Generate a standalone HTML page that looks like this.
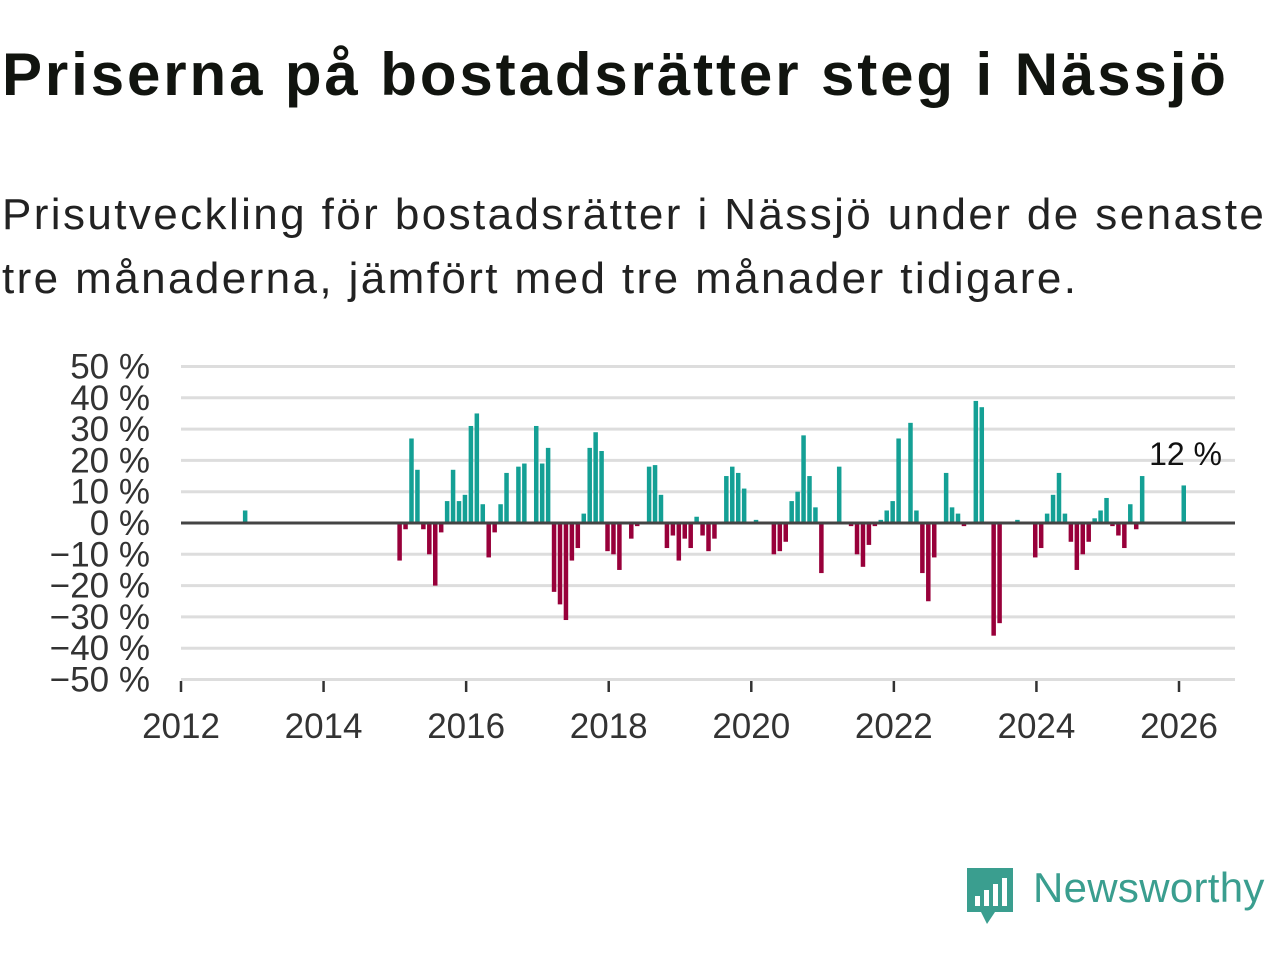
<!DOCTYPE html>
<html><head><meta charset="utf-8">
<style>
body{margin:0;width:1280px;height:960px;background:#fff;overflow:hidden;font-family:"Liberation Sans","DejaVu Sans",sans-serif;color:#111}
h1{position:absolute;left:2px;top:40px;margin:0;font-size:60px;font-weight:bold;letter-spacing:2.9px;color:#11140f;white-space:nowrap}
p{position:absolute;left:2px;top:183px;margin:0;font-size:44px;line-height:64px;color:#222;width:1300px;letter-spacing:2.4px;white-space:nowrap}
svg{position:absolute;left:0;top:0}
</style></head><body>
<h1>Priserna på bostadsrätter steg i Nässjö</h1>
<p>Prisutveckling för bostadsrätter i Nässjö under de senaste<br>tre månaderna, jämfört med tre månader tidigare.</p>
<svg id="chart" width="1280" height="960"></svg>
<div style="position:absolute;left:965px;top:864px;width:320px;height:64px">
<svg width="52" height="62" style="position:absolute;left:0;top:2px"><path d="M2 2h46v44h-18l-8 12-6-12H2z" fill="#3a9e8f"/><rect x="10" y="30" width="5" height="10" fill="#fff"/><rect x="19" y="24" width="5" height="16" fill="#fff"/><rect x="28" y="18" width="5" height="22" fill="#fff"/><rect x="37" y="12" width="5" height="28" fill="#fff"/></svg>
<span style="position:absolute;left:68px;top:0;font-size:42px;color:#3a9e8f;font-weight:normal;letter-spacing:0.3px">Newsworthy</span></div>
<script>
const months=["2012-11","2015-01","2015-02","2015-03","2015-04","2015-05","2015-06","2015-07","2015-08","2015-09","2015-10","2015-11","2015-12",
"2016-01","2016-02","2016-03","2016-04","2016-05","2016-06","2016-07","2016-09","2016-10","2016-12",
"2017-01","2017-02","2017-03","2017-04","2017-05","2017-06","2017-07","2017-08","2017-09","2017-10","2017-11","2017-12",
"2018-01","2018-02","2018-04","2018-05","2018-07","2018-08","2018-09","2018-10","2018-11","2018-12",
"2019-01","2019-02","2019-03","2019-04","2019-05","2019-06","2019-08","2019-09","2019-10","2019-11",
"2020-01","2020-04","2020-05","2020-06","2020-07","2020-08","2020-09","2020-10","2020-11","2020-12",
"2021-03","2021-05","2021-06","2021-07","2021-08","2021-09","2021-10","2021-11","2021-12",
"2022-01","2022-03","2022-04","2022-05","2022-06","2022-07","2022-09","2022-10","2022-11","2022-12",
"2023-02","2023-03","2023-05","2023-06","2023-09","2023-12",
"2024-01","2024-02","2024-03","2024-04","2024-05","2024-06","2024-07","2024-08","2024-09","2024-10","2024-11","2024-12",
"2025-01","2025-02","2025-03","2025-04","2025-05","2025-06","2026-01"];
const values=[4,-12,-2,27,17,-2,-10,-20,-3,7,17,7,9,
31,35,6,-11,-3,6,16,18,19,31,
19,24,-22,-26,-31,-12,-8,3,24,29,23,-9,
-10,-15,-5,-1,18,18.5,9,-8,-4,-12,
-5,-8,2,-4,-9,-5,15,18,16,11,
1,-10,-9,-6,7,10,28,15,5,-16,
18,-1,-10,-14,-7,-1,1,4,7,
27,32,4,-16,-25,-11,16,5,3,-1,
39,37,-36,-32,1,-11,
-8,3,9,16,3,-6,-15,-10,-6,1.5,4,8,
-1,-4,-8,6,-2,15,12];
const yTicks=[50,40,30,20,10,0,-10,-20,-30,-40,-50];
const xYears=[2012,2014,2016,2018,2020,2022,2024,2026];
const lastLabel="12 %";
const NS="http://www.w3.org/2000/svg",svg=document.getElementById('chart');
const x0=181,pxYear=(1179-181)/14;
const xScale=d=>{const [y,m]=d.split('-').map(Number);return x0+(y-2012+(m-1)/12)*pxYear;};
const yScale=v=>523-v*3.13;
function mk(t,a){const e=document.createElementNS(NS,t);for(const k in a)e.setAttribute(k,a[k]);svg.appendChild(e);return e;}
yTicks.forEach(t=>{
 if(t!==0){const g=mk('line',{x1:181,x2:1235,y1:yScale(t),y2:yScale(t),stroke:'#ddd','stroke-width':3});
 
 }
 const l=mk('text',{x:150,y:yScale(t)+12,'text-anchor':'end','font-size':35,fill:'#333','font-family':'Liberation Sans, sans-serif'});
 l.textContent=(t<0?'−'+(-t):t)+' %';
 
 
});
months.forEach((d,i)=>{
 const v=values[i],x=xScale(d),y=yScale(Math.max(v,0)),h=Math.abs(yScale(v)-yScale(0));
 const r=mk('rect',{x:x+2.5,y:y,width:4.5,height:h,fill:v>=0?'#14a095':'#98003a'});
 
 
});
const z=mk('line',{x1:181,x2:1235,y1:yScale(0),y2:yScale(0),stroke:'#444','stroke-width':3});


xYears.forEach(yr=>{
 const x=xScale(yr+'-01');
 const t=mk('line',{x1:x,x2:x,y1:681,y2:692,stroke:'#333','stroke-width':2.5});
 
 
 const l=mk('text',{x:x,y:738,'text-anchor':'middle','font-size':35,fill:'#333','font-family':'Liberation Sans, sans-serif'});
 l.textContent=yr;
 
 
});
const last=mk('text',{x:1222,y:465,'text-anchor':'end','font-size':32,fill:'#111','font-family':'Liberation Sans, sans-serif'});
last.textContent=lastLabel;


</script>
</body></html>
